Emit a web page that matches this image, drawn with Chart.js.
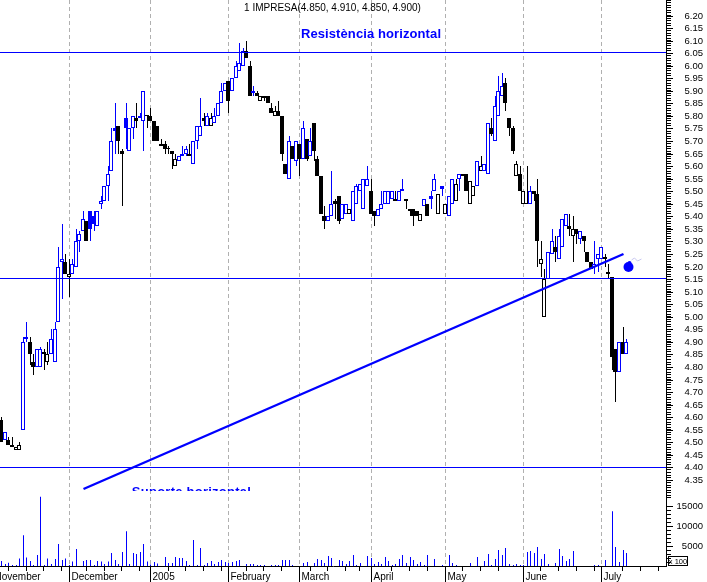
<!DOCTYPE html>
<html><head><meta charset="utf-8">
<style>html,body{margin:0;padding:0;background:#fff}canvas{display:block}</style>
<script src="https://cdn.jsdelivr.net/npm/chart.js@4"></script>
</head><body><canvas id="c" width="707" height="582"></canvas>
<script>
const open=[4.59,4.51,4.51,4.48,4.47,4.47,4.55,4.92,4.90,4.82,
4.80,4.80,4.86,4.82,4.85,4.82,4.98,5.22,5.22,5.16,
5.17,5.20,5.30,5.34,5.38,5.42,5.40,5.36,5.45,5.46,
5.52,5.58,5.75,5.76,5.66,5.79,5.66,5.75,5.79,5.79,
5.78,5.80,5.80,5.78,5.76,5.69,5.69,5.67,5.66,5.60,
5.62,5.64,5.65,5.64,5.61,5.70,5.72,5.79,5.76,5.76,
5.77,5.80,5.85,5.90,5.94,5.90,5.95,5.98,6.00,6.06,
6.00,5.89,5.89,5.86,5.88,5.88,5.83,5.80,5.82,5.80,
5.61,5.55,5.68,5.62,5.69,5.63,5.71,5.64,5.77,5.63,
5.56,5.40,5.38,5.40,5.46,5.48,5.39,5.41,5.41,5.38,
5.45,5.50,5.43,5.52,5.50,5.42,5.40,5.43,5.45,5.45,
5.47,5.46,5.46,5.50,5.47,5.43,5.43,5.42,5.38,5.44,
5.45,5.48,5.50,5.41,5.52,5.41,5.40,5.45,5.46,5.55,
5.57,5.57,5.45,5.48,5.52,5.58,5.58,5.57,5.75,5.70,
5.80,5.88,5.93,5.79,5.75,5.56,5.57,5.45,5.45,5.45,
5.50,5.49,5.21,5.00,5.15,5.25,5.28,5.23,5.28,5.36,
5.36,5.32,5.35,5.31,5.32,5.26,5.22,5.20,5.23,5.23,
5.24,5.18,5.16,4.87,4.78,4.90,4.85];
const high=[4.60,4.54,4.52,4.52,4.48,4.50,4.92,4.98,4.92,4.85,
4.87,4.88,4.87,4.90,4.95,4.98,5.28,5.37,5.25,5.23,
5.23,5.35,5.34,5.42,5.38,5.42,5.42,5.42,5.48,5.52,
5.60,5.75,5.85,5.76,5.67,5.85,5.75,5.80,5.85,5.81,
5.90,5.80,5.83,5.78,5.76,5.71,5.70,5.68,5.66,5.65,
5.64,5.68,5.68,5.69,5.70,5.76,5.87,5.81,5.81,5.81,
5.83,5.85,5.93,5.93,5.94,5.95,6.02,6.09,6.07,6.10,
6.02,5.92,5.90,5.88,5.88,5.88,5.85,5.84,5.86,5.80,
5.61,5.72,5.68,5.70,5.69,5.78,5.71,5.75,5.77,5.64,
5.56,5.44,5.40,5.58,5.47,5.48,5.45,5.45,5.43,5.50,
5.53,5.53,5.55,5.60,5.55,5.42,5.43,5.50,5.50,5.50,
5.50,5.50,5.50,5.55,5.47,5.43,5.43,5.42,5.41,5.47,
5.45,5.50,5.57,5.49,5.52,5.45,5.48,5.55,5.55,5.57,
5.57,5.57,5.54,5.52,5.62,5.64,5.61,5.77,5.79,5.88,
5.96,5.97,5.95,5.79,5.76,5.62,5.60,5.50,5.60,5.52,
5.50,5.55,5.30,5.19,5.26,5.35,5.32,5.35,5.39,5.41,
5.41,5.40,5.35,5.34,5.32,5.26,5.22,5.30,5.25,5.28,
5.25,5.21,5.16,4.87,4.90,4.96,4.91];
const low=[4.50,4.51,4.49,4.48,4.47,4.47,4.55,4.90,4.81,4.77,
4.80,4.80,4.79,4.81,4.85,4.82,4.98,5.07,5.17,5.08,
5.17,5.20,5.26,5.34,5.30,5.30,5.34,5.36,5.43,5.46,
5.46,5.58,5.65,5.65,5.44,5.67,5.66,5.71,5.75,5.79,
5.66,5.75,5.78,5.70,5.70,5.68,5.65,5.65,5.59,5.60,
5.62,5.64,5.64,5.64,5.61,5.67,5.72,5.76,5.76,5.76,
5.77,5.80,5.85,5.90,5.81,5.90,5.95,5.98,6.00,6.03,
5.88,5.88,5.88,5.86,5.86,5.85,5.81,5.80,5.80,5.62,
5.57,5.55,5.63,5.60,5.56,5.63,5.62,5.64,5.62,5.56,
5.41,5.35,5.38,5.40,5.39,5.37,5.39,5.41,5.41,5.38,
5.45,5.50,5.43,5.52,5.41,5.36,5.40,5.43,5.45,5.45,
5.47,5.46,5.46,5.50,5.43,5.40,5.36,5.40,5.38,5.44,
5.40,5.43,5.50,5.41,5.48,5.41,5.40,5.45,5.46,5.50,
5.56,5.50,5.45,5.48,5.52,5.58,5.58,5.57,5.72,5.70,
5.80,5.88,5.82,5.72,5.65,5.56,5.50,5.45,5.45,5.45,
5.46,5.20,5.16,5.00,5.15,5.25,5.22,5.23,5.28,5.36,
5.32,5.22,5.29,5.29,5.26,5.22,5.19,5.17,5.18,5.23,
5.20,5.15,4.79,4.66,4.78,4.85,4.85];
const close=[4.50,4.54,4.49,4.49,4.48,4.49,4.90,4.91,4.85,4.80,
4.87,4.87,4.85,4.85,4.91,4.95,5.20,5.23,5.17,5.17,
5.21,5.30,5.33,5.39,5.30,5.35,5.37,5.42,5.46,5.52,
5.57,5.70,5.74,5.70,5.65,5.75,5.75,5.80,5.78,5.80,
5.90,5.80,5.78,5.70,5.70,5.68,5.67,5.67,5.65,5.63,
5.64,5.65,5.67,5.65,5.70,5.76,5.76,5.78,5.80,5.79,
5.80,5.85,5.90,5.93,5.86,5.95,6.00,6.01,6.06,6.03,
5.88,5.90,5.88,5.88,5.87,5.85,5.81,5.82,5.80,5.65,
5.57,5.70,5.63,5.70,5.63,5.75,5.63,5.70,5.66,5.56,
5.41,5.38,5.40,5.45,5.45,5.38,5.45,5.45,5.43,5.50,
5.52,5.53,5.55,5.55,5.41,5.40,5.43,5.45,5.50,5.50,
5.50,5.47,5.50,5.51,5.46,5.42,5.40,5.40,5.41,5.47,
5.40,5.47,5.55,5.49,5.51,5.45,5.48,5.55,5.53,5.57,
5.56,5.50,5.54,5.52,5.62,5.60,5.61,5.77,5.73,5.84,
5.90,5.92,5.85,5.75,5.66,5.61,5.50,5.50,5.45,5.50,
5.49,5.30,5.23,5.15,5.26,5.30,5.26,5.32,5.39,5.41,
5.35,5.35,5.33,5.34,5.30,5.22,5.19,5.21,5.25,5.28,
5.23,5.17,4.84,4.78,4.90,4.85,4.90];
const upOnDay=[0,1,0,0,0,0,1,1,0,0,
1,1,0,0,1,1,1,1,0,0,
1,1,1,1,0,1,1,1,1,1,
1,1,1,0,0,1,1,1,0,1,
1,0,0,0,0,0,0,0,0,0,
1,1,1,0,1,1,1,0,1,0,
1,1,1,1,0,1,1,1,1,0,
0,1,0,0,0,0,0,0,0,0,
0,1,0,1,0,1,0,1,0,0,
0,0,1,1,0,0,1,1,0,1,
1,1,1,1,0,0,1,1,1,1,
1,0,1,1,0,0,0,0,0,1,
0,1,1,0,1,0,1,1,0,1,
0,0,0,0,1,0,1,1,0,1,
1,1,0,0,0,0,0,0,0,1,
0,0,0,0,1,1,0,1,1,1,
0,0,0,1,0,0,0,1,1,1,
0,0,0,0,1,0,1];
const volume=[1250,500,830,250,250,1900,7700,2150,1250,250,
2750,17300,250,1900,500,1750,5500,1500,1900,250,
1100,4250,0,1250,1500,1500,250,1250,1100,500,
1100,3250,1500,500,3500,8700,500,3250,3000,3500,
5500,1100,400,1000,600,0,2250,750,750,2250,
2000,2000,1250,250,6500,250,4500,250,750,1250,
500,1000,1500,1000,750,1000,1250,1500,0,500,
500,500,250,250,250,0,250,250,250,1500,
1500,1500,250,0,0,750,1000,0,750,1750,
1500,750,2500,2000,0,1500,1250,500,1250,2750,
250,750,0,2500,2000,500,1000,500,2250,1250,
250,500,1750,2750,750,2250,1500,500,1000,250,
2750,0,1750,0,250,0,2750,750,250,0,
0,0,750,0,2250,0,1250,3000,250,1750,
4000,2750,4500,500,250,500,250,250,3500,3750,
3250,4750,1750,3000,500,0,750,4250,2500,1250,
1750,3750,0,0,0,0,0,250,250,0,
1500,0,13700,4750,1000,4000,3250];

const priceLabels=['4.35','4.40','4.45','4.50','4.55','4.60','4.65','4.70','4.75','4.80','4.85','4.90','4.95','5.00','5.05','5.10','5.15','5.20','5.25','5.30','5.35','5.40','5.45','5.50','5.55','5.60','5.65','5.70','5.75','5.80','5.85','5.90','5.95','6.00','6.05','6.10','6.15','6.20'];
const volumeLabels=['5000','10000','15000'];
const monthLabels=['November','December','2005','February','March','April','May','June','July'];
const monthTicks=[-2.62,19,42,64,84,104,125,147,169];
const weekTicks=[2,7,12,17,24,29,34,39,47,52,57,62,69,74,79,87,92,97,101,110,115,120,130,135,140,152,157,162,167,175,180,185];

const resistanceLevel=[6.055,6.055];
const midLevel=[5.155,5.155];
const supportLevel=[4.40,4.40];
const levelX=[-1,188];
const trendX=[23,175];
const trendY=[4.313,5.25];
const bombX=[176.45];
const bombY=[5.20];
const bombCapX=[176.9];
const bombCapY=[5.215];
const fuseX=[177.4,178.2,179.1,180.2];
const fuseY=[5.227,5.233,5.222,5.23];

const BLUE='#0000ff', BLACK='#000000';
const PX_PER_PRICE=251.1, PRICE_TOP_PX=15.5, AREA_H=566, PX_PER_VOL=1/250, LABEL_RIGHT=703;
const priceMax=6.2+PRICE_TOP_PX/PX_PER_PRICE, priceMin=6.2-(AREA_H-PRICE_TOP_PX)/PX_PER_PRICE;
const volMax=AREA_H/PX_PER_VOL;
const xMin=-1.3/3.55, xMax=(666-1.3)/3.55;

const edge=upOnDay.map(u=>u?BLUE:BLACK);
const fill=open.map((o,i)=>close[i]>=o?'#ffffff':edge[i]);
const wickData=high.map((h,i)=>({x:i,y:[low[i],h]}));
const bodyData=open.map((o,i)=>({x:i,y:[Math.min(o,close[i]),Math.max(o,close[i])]}));
const volData=volume.map((v,i)=>({x:i,y:v}));
const pts=(xs,ys)=>xs.map((x,i)=>({x,y:ys[i]}));
const level=ys=>({type:'line',data:pts(levelX,ys),borderColor:BLUE,borderWidth:1,pointRadius:0,xAxisID:'x',yAxisID:'yLine',order:1});

function snap(off){return s=>{if(s.$snap)return;s.$snap=1;const o=s.getPixelForValue.bind(s);s.getPixelForValue=(v,i)=>Math.round(o(v,i))+off;};}
// the axes share one strip of the layout, so no scale reserves edge padding or clips its labels
function tidy(s,w,h){if(w!==undefined)s.width=w;if(h!==undefined)s.height=h;s.paddingTop=s.paddingBottom=s.paddingLeft=s.paddingRight=0;s._computeLabelArea=()=>undefined;
  if(s.axis==='y')s._getYAxisLabelAlignment=()=>({textAlign:'right',x:LABEL_RIGHT});}

const minorPriceTicks=[];for(let k=428;k<=626;k++)minorPriceTicks.push(k/100);
const minorVolTicks=[];for(let k=1;k<=15;k++)minorVolTicks.push(k*1000);

const noGrid={drawOnChartArea:false,drawTicks:true,tickColor:BLACK};
function yAxis(o){return Object.assign({type:'linear',position:'right',min:priceMin,max:priceMax,border:{display:false},weight:0,afterFit:s=>tidy(s,0)},o);}
const FONT='"Liberation Sans",Arial,sans-serif';

const axes={
 x:{type:'linear',position:'bottom',offset:false,min:xMin,max:xMax,weight:2,
   afterDataLimits:snap(0.5),afterBuildTicks:s=>{s.ticks=monthTicks.map(v=>({value:v}));},afterFit:s=>tidy(s,undefined,16),
   grid:{offset:false,color:'#b0b0b0',tickColor:BLACK,tickLength:16,drawTicks:true,tickBorderDash:[]},
   border:{display:true,color:BLACK,width:1,dash:[4,3]},
   ticks:{autoSkip:false,maxRotation:0,minRotation:0,align:'start',labelOffset:2,padding:-11,color:BLACK,font:{family:FONT,size:10},
     callback:(v,i)=>monthLabels[i]}},
 xMinor:{type:'linear',position:'bottom',offset:false,min:xMin,max:xMax,weight:1,
   afterBuildTicks:s=>{s.ticks=weekTicks.map(v=>({value:v}));},afterFit:s=>tidy(s,undefined,0),
   grid:Object.assign({offset:false,tickLength:5},noGrid),border:{display:false},
   ticks:{autoSkip:false,display:false,maxRotation:0}},
 xBody:{type:'linear',position:'bottom',display:false,offset:false,min:xMin,max:xMax,afterDataLimits:snap(0),afterFit:s=>tidy(s,undefined,0)},
 y:yAxis({weight:3,afterDataLimits:snap(0),afterBuildTicks:s=>{s.ticks=priceLabels.map(v=>({value:+v}));},afterFit:s=>tidy(s,41),
   border:{display:true,color:BLACK,width:1},grid:Object.assign({tickLength:7},noGrid),
   ticks:{autoSkip:false,color:BLACK,font:{family:FONT,size:9.5},callback:v=>v.toFixed(2)}}),
 yMinor:yAxis({afterBuildTicks:s=>{s.ticks=minorPriceTicks.map(v=>({value:v}));},grid:Object.assign({tickLength:5},noGrid),ticks:{autoSkip:false,display:false}}),
 yLine:yAxis({display:false,afterDataLimits:snap(0.5)}),
 yVol:yAxis({min:0,max:volMax,afterBuildTicks:s=>{s.ticks=volumeLabels.map(v=>({value:+v}));},grid:Object.assign({tickLength:7},noGrid),
   ticks:{autoSkip:false,color:BLACK,font:{family:FONT,size:9.5},callback:v=>String(v)}}),
 yVolMinor:yAxis({min:0,max:volMax,afterBuildTicks:s=>{s.ticks=minorVolTicks.map(v=>({value:v}));},grid:Object.assign({tickLength:5},noGrid),ticks:{autoSkip:false,display:false}})
};

const overlay={id:'overlay',afterDraw(ch){
  const c=ch.ctx;c.save();
  c.textBaseline='middle';c.textAlign='center';
  c.fillStyle=BLACK;c.font='10px '+FONT;
  c.fillText('1 IMPRESA(4.850, 4.910, 4.850, 4.900)',332.5,8);
  c.fillStyle=BLUE;c.font='bold 13px '+FONT;
  c.letterSpacing='0.1px';
  c.fillText('Resistència horizontal',371,34);
  c.save();c.beginPath();c.rect(0,0,666,491);c.clip();
  c.letterSpacing='0.25px';
  c.fillText('Suporte horizontal',191.5,492);
  c.restore();
  c.letterSpacing='0px';
  c.strokeStyle=BLACK;c.lineWidth=1;c.strokeRect(668.5,556.5,19,9);
  c.fillStyle=BLACK;c.font='7.5px '+FONT;
  c.fillText('x 100',678,561.5);
  c.restore();
}};

new Chart(document.getElementById('c'),{
 type:'bar',
 data:{datasets:[
  {type:'line',data:pts(trendX,trendY),borderColor:BLUE,borderWidth:2.4,pointRadius:0,xAxisID:'x',yAxisID:'y',order:1},
  level(resistanceLevel),level(midLevel),level(supportLevel),
  {type:'line',data:pts(bombX,bombY),showLine:false,pointRadius:5,pointBackgroundColor:BLUE,pointBorderWidth:0,xAxisID:'x',yAxisID:'y',order:1},
  {type:'line',data:pts(bombCapX,bombCapY),showLine:false,pointRadius:2,pointBackgroundColor:BLUE,pointBorderWidth:0,xAxisID:'x',yAxisID:'y',order:1},
  {type:'line',data:pts(fuseX,fuseY),borderColor:'#c8c8f0',borderWidth:1,pointRadius:0,xAxisID:'x',yAxisID:'y',order:1},
  {data:bodyData,backgroundColor:fill,borderColor:edge,borderWidth:1,borderSkipped:false,inflateAmount:0,barThickness:4,grouped:false,minBarLength:1,xAxisID:'xBody',yAxisID:'y',order:2},
  {data:wickData,backgroundColor:edge,borderWidth:0,inflateAmount:0,barThickness:1,grouped:false,minBarLength:1,xAxisID:'x',yAxisID:'y',order:3},
  {data:volData,backgroundColor:BLUE,borderWidth:0,inflateAmount:0,barThickness:1,grouped:false,xAxisID:'x',yAxisID:'yVol',order:4}
 ]},
 options:{responsive:false,animation:false,devicePixelRatio:1,layout:{padding:0,autoPadding:false},
  elements:{line:{tension:0}},
  plugins:{legend:{display:false},title:{display:false},tooltip:{enabled:false}},
  scales:axes},
 plugins:[overlay]
});
</script></body></html>
